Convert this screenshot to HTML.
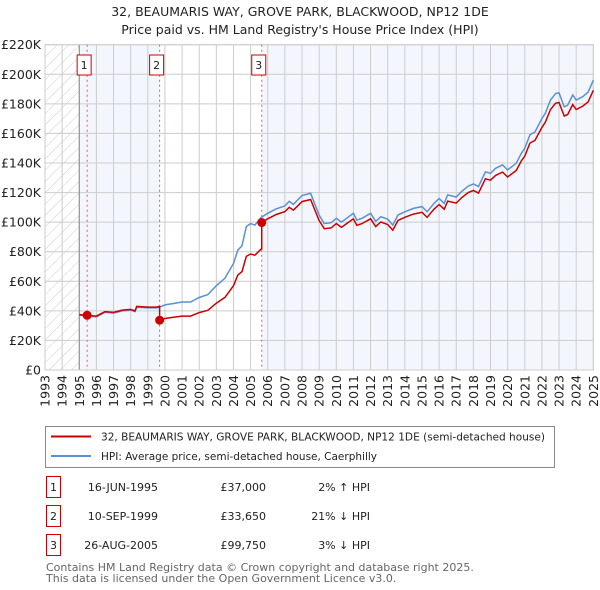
<!DOCTYPE html>
<html><head><meta charset="utf-8"><style>
body{margin:0;background:#fff;font-family:"Liberation Sans","DejaVu Sans",sans-serif;}
#wrap{position:relative;width:600px;height:590px;overflow:hidden;}
svg text{font-family:"DejaVu Sans","Liberation Sans",sans-serif;}
</style></head><body>
<div id="wrap">
<svg id="chart" width="600" height="590"></svg>
</div>
<script>
const hpiYears=[1995,1995.5,1996,1996.5,1997,1997.5,1998,1998.25,1998.35,1999,1999.5,1999.7,2000,2000.5,2001,2001.5,2002,2002.5,2003,2003.5,2004,2004.25,2004.5,2004.75,2005,2005.25,2005.6,2006,2006.5,2007,2007.25,2007.5,2008,2008.5,2009,2009.3,2009.7,2010,2010.3,2010.6,2011,2011.2,2011.5,2012,2012.3,2012.6,2013,2013.3,2013.6,2014,2014.5,2015,2015.3,2015.7,2016,2016.3,2016.5,2017,2017.3,2017.7,2018,2018.3,2018.7,2019,2019.3,2019.7,2020,2020.5,2020.8,2021,2021.3,2021.6,2022,2022.2,2022.5,2022.8,2023,2023.3,2023.5,2023.8,2024,2024.4,2024.7,2025];
const hpiValues=[37,36.5,36,39,38.5,40,40.5,39.5,42.5,42,42,42.5,44,45,46,46,49,51,57,62,72,81,84,97,99,98,103,106,109,111,114,112,118,119.5,104.8,99,99.6,102.6,100,102.6,106,101.4,102.6,106,100.5,103.7,102,98,104.8,107,109.3,110.5,107,112.7,116,112.7,118.4,117,120.6,124.4,125.8,124,134,133,136.4,138.7,135.3,139.8,146.5,150,159,161,170,173.6,182.6,187,187.5,178,179,186,182.6,185,188,196];
const saleYears=[1995.46,1999.69,2005.65];
const salePrices=[37,33.65,99.75];
const saleLabels=["1","2","3"];
const yTicks=[0,20,40,60,80,100,120,140,160,180,200,220];
const yTickLabels=["£0","£20K","£40K","£60K","£80K","£100K","£120K","£140K","£160K","£180K","£200K","£220K"];
const xTicks=[1993,1994,1995,1996,1997,1998,1999,2000,2001,2002,2003,2004,2005,2006,2007,2008,2009,2010,2011,2012,2013,2014,2015,2016,2017,2018,2019,2020,2021,2022,2023,2024,2025];

const NS="http://www.w3.org/2000/svg";
const svg=document.getElementById('chart');
const L=45,R=593.3,T=44.7,B=370;
const X=y=>L+(y-1993)/(2025-1993)*(R-L);
const Y=v=>B-v/220*(B-T);
function mk(tag,attrs,parent){const e=document.createElementNS(NS,tag);for(const k in attrs)e.setAttribute(k,attrs[k]);(parent||svg).appendChild(e);return e;}
function hpiAt(t){for(let i=1;i<hpiYears.length;i++){if(t<=hpiYears[i]){const f=(t-hpiYears[i-1])/(hpiYears[i]-hpiYears[i-1]);return hpiValues[i-1]+f*(hpiValues[i]-hpiValues[i-1]);}}return hpiValues[hpiValues.length-1];}

let t=mk('text',{x:300,y:16,'text-anchor':'middle','font-size':12.5,fill:'#222'});t.textContent="32, BEAUMARIS WAY, GROVE PARK, BLACKWOOD, NP12 1DE";

t=mk('text',{x:300,y:34,'text-anchor':'middle','font-size':12.5,fill:'#222'});t.textContent="Price paid vs. HM Land Registry's House Price Index (HPI)";


const defs=mk('defs',{});
const pat=mk('pattern',{id:'hatch',width:8,height:8,patternUnits:'userSpaceOnUse',patternTransform:'rotate(45)'},defs);
mk('line',{x1:0,y1:0,x2:0,y2:8,stroke:'#ccc','stroke-width':1},pat);
let r=mk('rect',{x:L,y:T,width:X(1995)-L,height:B-T,fill:'url(#hatch)'});

r=mk('rect',{x:X(1995),y:T,width:X(saleYears[1])-X(1995),height:B-T,fill:'#eef3fc',opacity:0.7});

r=mk('rect',{x:X(saleYears[2]),y:T,width:R-X(saleYears[2]),height:B-T,fill:'#eef3fc',opacity:0.7});


yTicks.forEach((v,i)=>{
 const g=mk('line',{x1:L,x2:R,y1:Y(v),y2:Y(v),stroke:'#ccc','stroke-width':1});
 
 const tx=mk('text',{x:L-4,y:Y(v)+4.5,'text-anchor':'end','font-size':12.5,fill:'#222'});tx.textContent=yTickLabels[i];
 
});
xTicks.forEach(yr=>{
 const g=mk('line',{x1:X(yr),x2:X(yr),y1:T,y2:B,stroke:'#ccc','stroke-width':1});
 
 const tx=mk('text',{x:0,y:0,'text-anchor':'end','font-size':12.5,fill:'#222',transform:`translate(${X(yr)+4.5},${B+5}) rotate(-90)`});tx.textContent=yr;
 
});
let ax=mk('line',{x1:X(1995),x2:X(1995),y1:T,y2:B,stroke:'#888','stroke-width':1});

ax=mk('rect',{x:L,y:T,width:R-L,height:B-T,fill:'none',stroke:'#ccc'});


saleYears.forEach((s,i)=>{
 const v=mk('line',{x1:X(s),x2:X(s),y1:T,y2:B,stroke:'#e55','stroke-width':1,'stroke-dasharray':'2,3'});
 
});

let d=hpiYears.map((y,i)=>(i?'L':'M')+X(y).toFixed(1)+','+Y(hpiValues[i]).toFixed(1)).join(' ');
let p=mk('path',{d:d,fill:'none',stroke:'#5b8fd6','stroke-width':1.5});


let pts=[];
hpiYears.forEach((y,i)=>{
 let k=0;for(let j=0;j<saleYears.length;j++)if(y>=saleYears[j])k=j;
 if(i>0){const prev=hpiYears[i-1];saleYears.forEach((s,j)=>{if(s>prev&&s<=y){
   const prevK=j>0?j-1:0;pts.push([s,salePrices[prevK]*hpiAt(s)/hpiAt(saleYears[prevK])]);pts.push([s,salePrices[j]]);}});}
 pts.push([y,salePrices[k]*hpiValues[i]/hpiAt(saleYears[k])]);
});
pts.sort((a,b)=>a[0]-b[0]);
d=pts.map((q,i)=>(i?'L':'M')+X(q[0]).toFixed(1)+','+Y(q[1]).toFixed(1)).join(' ');
p=mk('path',{d:d,fill:'none',stroke:'#cc0000','stroke-width':1.5});


saleYears.forEach((s,i)=>{
 const c=mk('circle',{cx:X(s),cy:Y(salePrices[i]),r:4.5,fill:'#cc0000'});
 
 const b=mk('rect',{x:X(s)-10,y:55,width:14,height:20,fill:'#fff',stroke:'#cc0000','stroke-width':1});
 
 const tx=mk('text',{x:X(s)-3,y:69,'text-anchor':'middle','font-size':11,fill:'#222'});tx.textContent=saleLabels[i];
 
});

const lg=mk('g',{});
mk('rect',{x:45.5,y:426.5,width:509,height:41,fill:'#fff',stroke:'#888'},lg);
let e=mk('line',{x1:51,x2:91,y1:436.5,y2:436.5,stroke:'#cc0000','stroke-width':2},lg);

t=mk('text',{x:101,y:440.5,'font-size':11,fill:'#222',textLength:444,lengthAdjust:'spacingAndGlyphs'},lg);t.textContent="32, BEAUMARIS WAY, GROVE PARK, BLACKWOOD, NP12 1DE (semi-detached house)";

e=mk('line',{x1:51,x2:91,y1:456,y2:456,stroke:'#5b8fd6','stroke-width':2},lg);

t=mk('text',{x:101,y:460,'font-size':11,fill:'#222',textLength:276,lengthAdjust:'spacingAndGlyphs'},lg);t.textContent="HPI: Average price, semi-detached house, Caerphilly";


const rows=[["1","16-JUN-1995","£37,000","2% \u2191 HPI"],["2","10-SEP-1999","£33,650","21% \u2193 HPI"],["3","26-AUG-2005","£99,750","3% \u2193 HPI"]];
const rowY=[487,516,545];
rows.forEach((row,i)=>{
 const g=mk('g',{});
 mk('rect',{x:46.5,y:rowY[i]-10.5,width:14,height:21,fill:'#fff',stroke:'#cc0000'},g);
 let a=mk('text',{x:53.5,y:rowY[i]+4,'text-anchor':'middle','font-size':11,fill:'#222'},g);a.textContent=row[0];
 a=mk('text',{x:158,y:rowY[i]+4,'text-anchor':'end','font-size':11,fill:'#222'},g);a.textContent=row[1];
 a=mk('text',{x:266,y:rowY[i]+4,'text-anchor':'end','font-size':11,fill:'#222'},g);a.textContent=row[2];
 a=mk('text',{x:370,y:rowY[i]+4,'text-anchor':'end','font-size':11,fill:'#222'},g);a.textContent=row[3];
});
t=mk('text',{x:46,y:571,'font-size':11,fill:'#666'});t.textContent="Contains HM Land Registry data © Crown copyright and database right 2025.";

t=mk('text',{x:46,y:582,'font-size':11,fill:'#666'});t.textContent="This data is licensed under the Open Government Licence v3.0.";

</script>
</body></html>
